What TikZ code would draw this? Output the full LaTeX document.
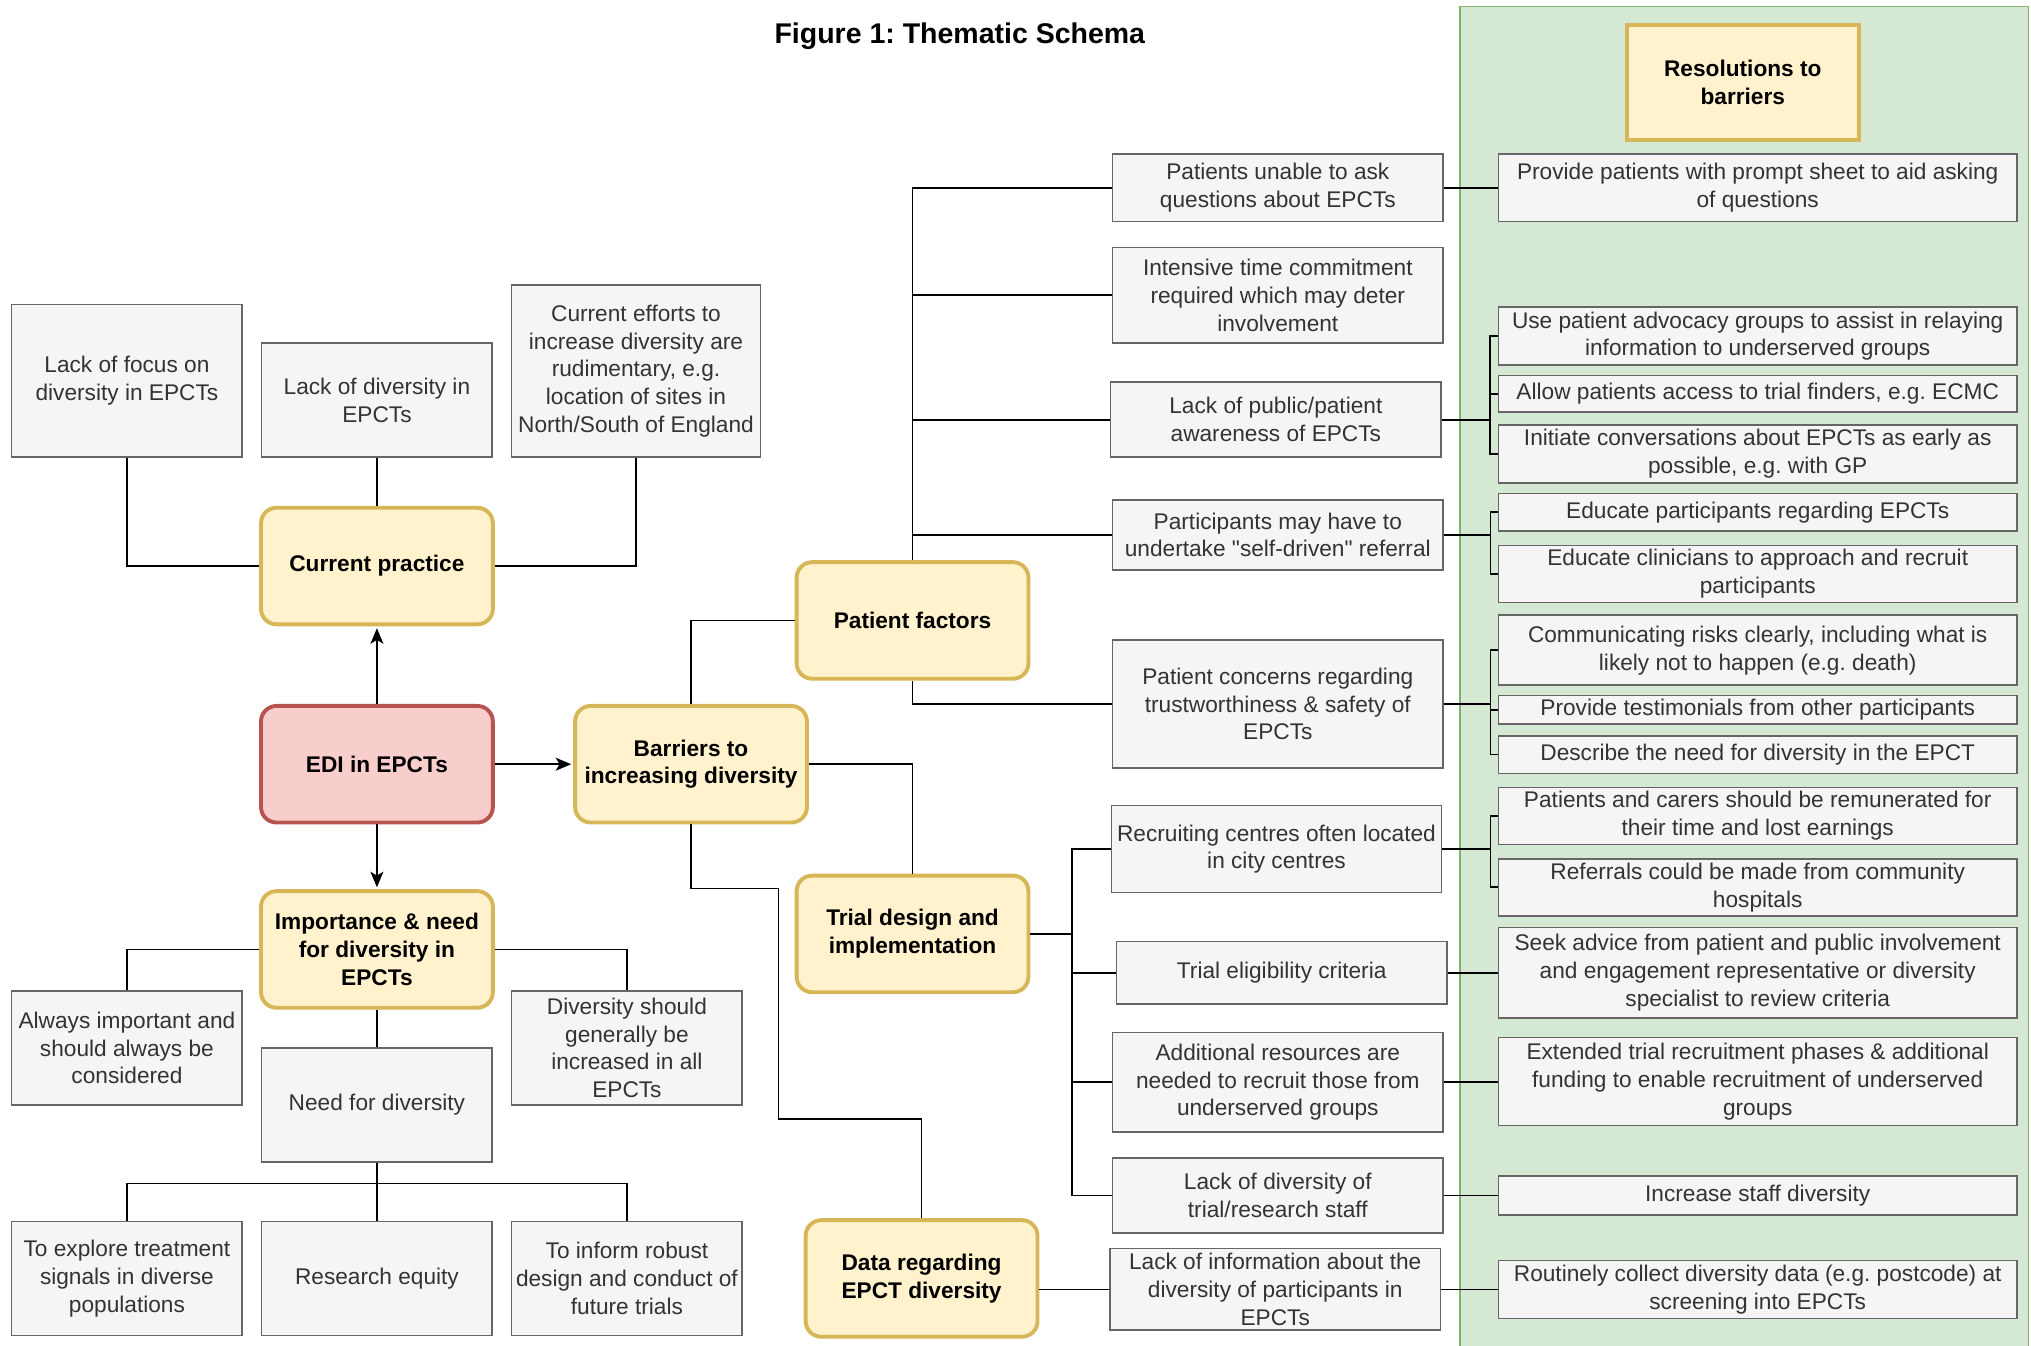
\documentclass[tikz,border=0pt]{standalone}
\usepackage{fontspec}
\setmainfont{Liberation Sans}
\newfontfamily\plainq{Liberation Sans}
\frenchspacing
\usetikzlibrary{arrows.meta}
\definecolor{grayfill}{HTML}{F5F5F5}
\definecolor{grayline}{HTML}{666666}
\definecolor{graytext}{HTML}{333333}
\definecolor{yelfill}{HTML}{FFF2CC}
\definecolor{yelline}{HTML}{D6B656}
\definecolor{redfill}{HTML}{F8CECC}
\definecolor{redline}{HTML}{B85450}
\definecolor{grnfill}{HTML}{D5E8D4}
\definecolor{grnline}{HTML}{82B366}

\begin{document}
\begin{tikzpicture}
[x=1pt,y=-1pt]
\tikzset{txt/.style={font=\fontsize{17.5}{21.5}\selectfont,align=center,inner sep=2pt}}
\tikzset{gbox/.style={txt,draw=grayline,fill=grayfill,text=graytext,line width=1.2pt,minimum width=178pt,minimum height=88pt}}
\tikzset{theme/.style={txt,font=\fontsize{17.5}{21.5}\selectfont\bfseries,draw=yelline,fill=yelfill,line width=3pt,rounded corners=12pt,minimum width=179pt,minimum height=90pt}}
\tikzset{core/.style={theme,draw=redline,fill=redfill}}
\tikzset{bbox/.style={gbox,minimum width=255pt}}
\tikzset{rbox/.style={gbox,minimum width=400pt}}
\tikzset{link/.style={line width=1.3pt}}
\tikzset{arr/.style={link,shorten >=1.5pt,-{Stealth[length=12pt,width=10pt,inset=3pt]}}}

\useasboundingbox (0,0) rectangle (1568,1039);
\filldraw[fill=grnfill,draw=grnline,line width=1.3pt] (1127,5) rectangle (1566,1050);
\node[font=\fontsize{22}{26}\selectfont\bfseries] (title) at (741,28) {Figure 1: Thematic Schema};

% left side
\node[gbox,minimum height=118pt] (lackfocus) at (98,294) {Lack of focus on\\diversity in EPCTs};
\node[gbox] (lackdiv) at (291,309) {Lack of diversity in\\EPCTs};
\node[gbox,minimum width=192pt,minimum height=133pt] (effort) at (491,286.5) {Current efforts to\\increase diversity are\\rudimentary, e.g.\\location of sites in\\North/South of England};
\node[theme] (practice) at (291,437) {Current practice};
\node[core] (edi) at (291,590) {EDI in EPCTs};
\node[theme] (barrier) at (533.5,590) {Barriers to\\increasing diversity};
\node[theme] (importance) at (291,733) {Importance \& need\\for diversity in\\EPCTs};
\node[gbox] (always) at (98,809) {Always important and\\should always be\\considered};
\node[gbox] (need) at (291,853) {Need for diversity};
\node[gbox,inner sep=0pt] (increase) at (484,809) {Diversity should\\generally be\\increased in all\\EPCTs};
\node[gbox] (explore) at (98,987) {To explore treatment\\signals in diverse\\populations};
\node[gbox] (equity) at (291,987) {Research equity};
\node[gbox] (inform) at (484,987) {To inform robust\\design and conduct of\\future trials};

% barrier themes
\node[theme] (patient) at (704.5,479) {Patient factors};
\node[theme] (design) at (704.5,721) {Trial design and\\implementation};
\node[theme] (data) at (711.5,987) {Data regarding\\EPCT diversity};

\node[bbox,minimum height=52pt] (ask) at (986.5,145) {Patients unable to ask\\questions about EPCTs};
\node[bbox,minimum height=74pt] (time) at (986.5,228) {Intensive time commitment\\required which may deter\\involvement};
\node[bbox,minimum height=58pt] (aware) at (985,324) {Lack of public/patient\\awareness of EPCTs};
\node[bbox,minimum height=54pt] (referral) at (986.5,413) {Participants may have to\\undertake {\plainq"}self-driven{\plainq"} referral};
\node[bbox,minimum height=99pt] (trust) at (986.5,543.5) {Patient concerns regarding\\trustworthiness \& safety of\\EPCTs};
\node[bbox,minimum height=67pt] (city) at (985.5,655.5) {Recruiting centres often located\\in city centres};
\node[bbox,minimum height=48pt] (elig) at (989.5,751) {Trial eligibility criteria};
\node[bbox,minimum height=77pt] (resource) at (986.5,835.5) {Additional resources are\\needed to recruit those from\\underserved groups};
\node[bbox,minimum height=58pt] (staff) at (986.5,923) {Lack of diversity of\\trial/research staff};
\node[bbox,minimum height=63pt,inner sep=0pt] (info) at (984.5,995.5) {Lack of information about the\\diversity of participants in\\EPCTs};

% resolutions
\node[theme,sharp corners,minimum height=89pt] (resol) at (1345.5,63.5) {Resolutions to\\barriers};
\node[rbox,minimum height=52pt] (prompt) at (1357,145) {Provide patients with prompt sheet to aid asking\\of questions};
\node[rbox,minimum height=45pt,inner sep=1pt] (advocacy) at (1357,259.5) {Use patient advocacy groups to assist in relaying\\information to underserved groups};
\node[rbox,minimum height=28pt,inner sep=1pt] (finder) at (1357,304) {Allow patients access to trial finders, e.g. ECMC};
\node[rbox,minimum height=45pt,inner sep=1pt] (early) at (1357,350.5) {Initiate conversations about EPCTs as early as\\possible, e.g. with GP};
\node[rbox,minimum height=29pt,inner sep=1pt] (educpart) at (1357,395.5) {Educate participants regarding EPCTs};
\node[rbox,minimum height=44pt,inner sep=1pt] (educclin) at (1357,443) {Educate clinicians to approach and recruit\\participants};
\node[rbox,minimum height=54pt] (risk) at (1357,502) {Communicating risks clearly, including what is\\likely not to happen (e.g. death)};
\node[rbox,minimum height=22pt,inner sep=1pt] (testim) at (1357,548) {Provide testimonials from other participants};
\node[rbox,minimum height=29pt,inner sep=1pt] (describe) at (1357,582.5) {Describe the need for diversity in the EPCT};
\node[rbox,minimum height=44pt,inner sep=1pt] (remun) at (1357,630) {Patients and carers should be remunerated for\\their time and lost earnings};
\node[rbox,minimum height=44pt,inner sep=1pt] (community) at (1357,685) {Referrals could be made from community\\hospitals};
\node[rbox,minimum height=70pt] (advice) at (1357,751) {Seek advice from patient and public involvement\\and engagement representative or diversity\\specialist to review criteria};
\node[rbox,minimum height=68pt] (extend) at (1357,835) {Extended trial recruitment phases \& additional\\funding to enable recruitment of underserved\\groups};
\node[rbox,minimum height=30pt] (incstaff) at (1357,923) {Increase staff diversity};
\node[rbox,minimum height=45pt,inner sep=1pt] (collect) at (1357,995.5) {Routinely collect diversity data (e.g. postcode) at\\screening into EPCTs};

% connectors, left side
\draw[link] (lackfocus.south) |- (practice.west);
\draw[link] (lackdiv.south) -- (practice.north);
\draw[link] (effort.south) |- (practice.east);
\foreach \to in {practice,barrier,importance}
	\draw[arr] (edi) -- (\to);
\draw[link] (importance.west) -| (always.north);
\draw[link] (importance.east) -| (increase.north);
\draw[link] (importance) -- (need);
\foreach \to in {explore,equity,inform}
	\draw[link] (need.south) -- ++(0,16) -| (\to.north);

% connectors, barriers
\coordinate (bend1) at (601,686);
\coordinate (bend2) at (601,864);
\draw[link] (barrier.north) |- (patient.west);
\draw[link] (barrier.east) -| (design.north);
\draw[link] (barrier.south) |- (bend1) -- (bend2) -| (data.north);
\foreach \to in {ask,time,aware,referral}
	\draw[link] (patient.north) |- (\to.west);
\draw[link] (patient.south) |- (trust.west);
\foreach \to in {city,elig,resource,staff}
	\draw[link] (design.east) -- ++(32,0) |- (\to.west);
\draw[link] (data.east |- info.west) -- (info.west);

% connectors, resolutions
\draw[link] (ask.east) -- (prompt.west);
\foreach \to in {advocacy,finder,early}
	\draw[link] (aware.east) -- ++(37,0) |- (\to.west);
\foreach \to in {educpart,educclin}
	\draw[link] (referral.east) -- ++(36,0) |- (\to.west);
\foreach \to in {risk,testim,describe}
	\draw[link] (trust.east) -- ++(36,0) |- (\to.west);
\foreach \to in {remun,community}
	\draw[link] (city.east) -- ++(37,0) |- (\to.west);
\foreach \from/\to in {elig/advice,resource/extend,staff/incstaff,info/collect}
	\draw[link] (\from.east) -- (\from.east -| \to.west);

\end{tikzpicture}
\end{document}
